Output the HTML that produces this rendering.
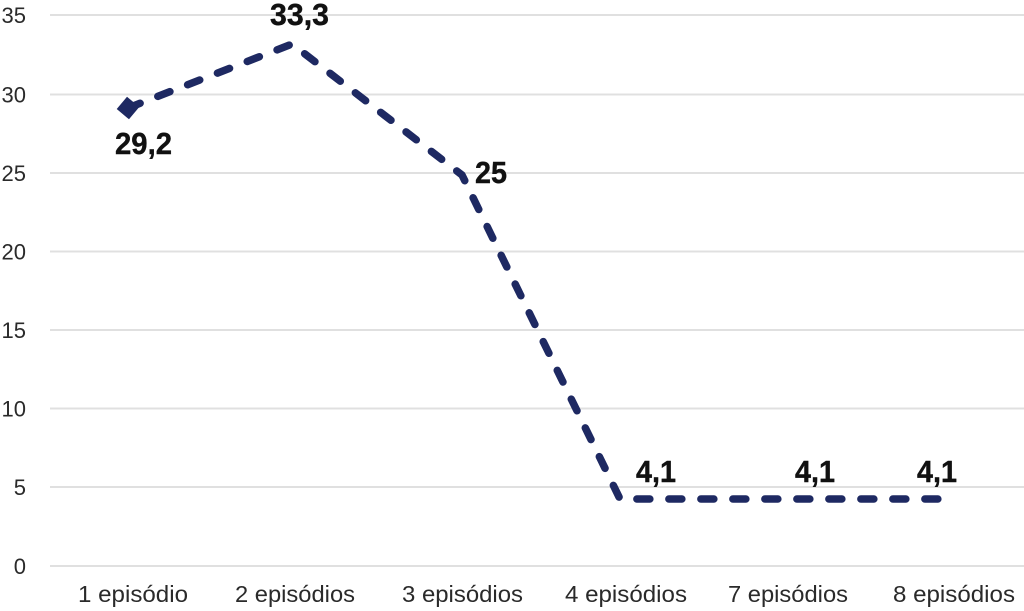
<!DOCTYPE html>
<html>
<head>
<meta charset="utf-8">
<style>
  html, body { margin: 0; padding: 0; background: #ffffff; }
  body { width: 1024px; height: 611px; overflow: hidden; }
  svg { display: block; }
  .ytick { font-family: "Liberation Sans", Arial, sans-serif; font-size: 22px; fill: #2a2a2a; }
  .xtick { font-family: "Liberation Sans", Arial, sans-serif; font-size: 23px; fill: #2a2a2a; }
  .dlab { font-family: "Liberation Sans", Arial, sans-serif; font-size: 31px; font-weight: bold; fill: #111111; stroke: #111111; stroke-width: 0.4px; }
</style>
</head>
<body>
<svg width="1024" height="611" viewBox="0 0 1024 611" xmlns="http://www.w3.org/2000/svg">
  <rect x="0" y="0" width="1024" height="611" fill="#ffffff"/>
  <!-- gridlines -->
  <g stroke="#e0e0e0" stroke-width="2">
    <line x1="50" y1="15" x2="1024" y2="15"/>
    <line x1="50" y1="94.5" x2="1024" y2="94.5"/>
    <line x1="50" y1="173" x2="1024" y2="173"/>
    <line x1="50" y1="251.5" x2="1024" y2="251.5"/>
    <line x1="50" y1="330" x2="1024" y2="330"/>
    <line x1="50" y1="408.5" x2="1024" y2="408.5"/>
    <line x1="50" y1="487" x2="1024" y2="487"/>
    <line x1="50" y1="566" x2="1024" y2="566"/>
  </g>
  <!-- y tick labels -->
  <g class="ytick" text-anchor="end">
    <text x="26" y="23">35</text>
    <text x="26" y="102.5">30</text>
    <text x="26" y="181">25</text>
    <text x="26" y="259.5">20</text>
    <text x="26" y="338">15</text>
    <text x="26" y="416.5">10</text>
    <text x="26" y="495">5</text>
    <text x="26" y="574">0</text>
  </g>
  <!-- x tick labels -->
  <g class="xtick">
    <text x="78" y="602" textLength="110" lengthAdjust="spacingAndGlyphs">1 episódio</text>
    <text x="235" y="602" textLength="120" lengthAdjust="spacingAndGlyphs">2 episódios</text>
    <text x="402" y="602" textLength="121" lengthAdjust="spacingAndGlyphs">3 episódios</text>
    <text x="565" y="602" textLength="122" lengthAdjust="spacingAndGlyphs">4 episódios</text>
    <text x="728" y="602" textLength="120" lengthAdjust="spacingAndGlyphs">7 episódios</text>
    <text x="893" y="602" textLength="122" lengthAdjust="spacingAndGlyphs">8 episódios</text>
  </g>
  <!-- series -->
  <polyline points="128,108 292,44 462,175 620,499 948,499" fill="none" stroke="#1e2962" stroke-width="7.5" stroke-linecap="round" stroke-linejoin="round" stroke-dasharray="13 19"/>
  <rect x="120" y="100" width="16" height="16" fill="#1e2962" transform="rotate(40 128 108)"/>
  <!-- data labels -->
  <g class="dlab">
    <text x="115" y="154" textLength="57" lengthAdjust="spacingAndGlyphs">29,2</text>
    <text x="270" y="25" textLength="59" lengthAdjust="spacingAndGlyphs">33,3</text>
    <text x="475" y="183" textLength="32" lengthAdjust="spacingAndGlyphs">25</text>
    <text x="636" y="482" textLength="40" lengthAdjust="spacingAndGlyphs">4,1</text>
    <text x="795" y="482" textLength="40" lengthAdjust="spacingAndGlyphs">4,1</text>
    <text x="917" y="482" textLength="40" lengthAdjust="spacingAndGlyphs">4,1</text>
  </g>
</svg>
</body>
</html>
